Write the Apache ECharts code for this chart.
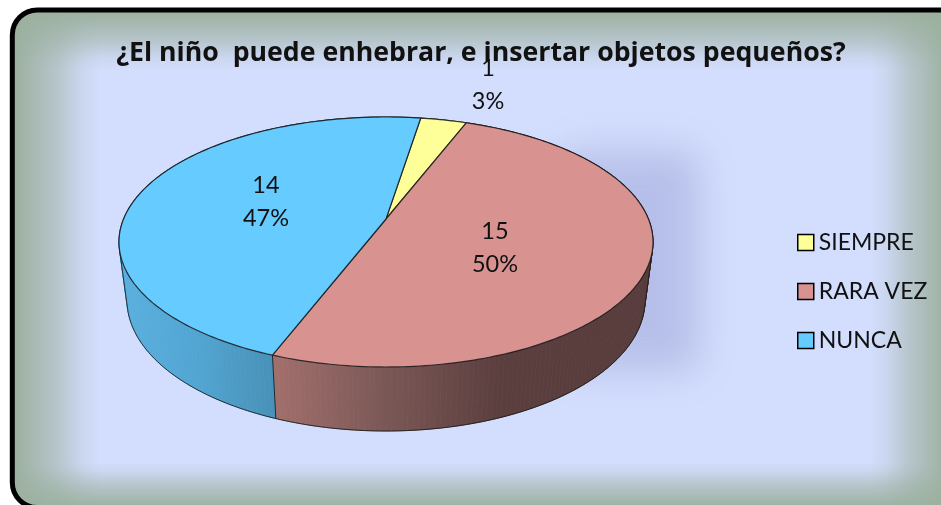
<!DOCTYPE html>
<html>
<head>
<meta charset="utf-8">
<style>html,body{margin:0;padding:0;background:#fff}#c{width:941px;height:505px}</style>
<script src="https://cdn.jsdelivr.net/npm/echarts@6/dist/echarts.min.js"></script>
</head>
<body>
<div id="c"></div>
<script>
const titleText = '¿El niño  puede enhebrar, e insertar objetos pequeños?';
const categories = ['SIEMPRE', 'RARA VEZ', 'NUNCA'];
const values = [1, 15, 14];
const colors = ['#FFFF99', '#D89391', '#66CCFF'];

const FONT = 'Lato, Carlito, sans-serif';
const TITLE_FONT = '"Open Sans", Lato, sans-serif';
const START_DEG = 9;
const TOP = { cx: 386, cy: 242, rx: 267, ry: 125 };
const BOTTOM = { cx: 386, cy: 300, rx: 259, ry: 131 };
const TILT = 0.184;
const LABEL_AT = [[488, 85], [495, 248], [266, 202]];
const WALL = [
  { x0: 386, x1: 470, stops: [[0, '#B3B36B'], [1, '#B3B36B']] },
  { x0: 275, x1: 650, stops: [[0, '#A26F6C'], [0.28, '#7C5957'], [0.6, '#5B3E3E'], [1, '#583C3C']] },
  { x0: 120, x1: 275, stops: [[0, '#59B0DE'], [0.5, '#52A5D2'], [1, '#4891B8']] }
];
const EDGE = 'rgba(25,25,25,0.85)';
const total = values.reduce((a, b) => a + b, 0);

function project(deg, e) {
  const t = deg * Math.PI / 180, u = Math.sin(t), v = -Math.cos(t), d = 1 - TILT * v;
  return [e.cx + e.rx * u * Math.sqrt(1 - TILT * TILT) / d, e.cy + e.ry * (v - TILT) / d];
}
function range(i) {
  let a = START_DEG;
  for (let k = 0; k < i; k++) a += values[k] / total * 360;
  return [a, a + values[i] / total * 360];
}
function arc(a, b, e) {
  const n = Math.max(2, Math.ceil(b - a)), p = [];
  for (let k = 0; k <= n; k++) p.push(project(a + (b - a) * k / n, e));
  return p;
}
function hull(pts) {
  const s = pts.slice().sort((p, q) => p[0] - q[0] || p[1] - q[1]);
  const cross = (o, a, b) => (a[0] - o[0]) * (b[1] - o[1]) - (a[1] - o[1]) * (b[0] - o[0]);
  const lo = [], up = [];
  s.forEach(p => { while (lo.length > 1 && cross(lo[lo.length - 2], lo[lo.length - 1], p) <= 0) lo.pop(); lo.push(p); });
  s.slice().reverse().forEach(p => { while (up.length > 1 && cross(up[up.length - 2], up[up.length - 1], p) <= 0) up.pop(); up.push(p); });
  return lo.slice(0, -1).concat(up.slice(0, -1));
}

function renderSlice(i) {
  return function (params, api) {
    const val = api.value(0);
    const [a, b] = range(i);
    const children = [];
    const w = WALL[i];
    const grad = new echarts.graphic.LinearGradient(w.x0, 0, w.x1, 0,
      w.stops.map(s => ({ offset: s[0], color: s[1] })), true);
    const topArc = arc(a, b, TOP), botArc = arc(a, b, BOTTOM);
    for (let k = 0; k < topArc.length - 1; k++) {
      children.push({
        type: 'polygon', z2: 1, silent: true,
        shape: { points: [topArc[k], topArc[k + 1], botArc[k + 1], botArc[k]] },
        style: { fill: grad, stroke: grad, lineWidth: 0.8 }
      });
    }
    children.push({
      type: 'line', z2: 5, silent: true,
      shape: { x1: topArc[0][0], y1: topArc[0][1], x2: botArc[0][0], y2: botArc[0][1] },
      style: { stroke: EDGE, lineWidth: 1 }
    });
    if (i === values.length - 1) {
      const all = arc(0, 360, TOP).concat(arc(0, 360, BOTTOM));
      children.push({
        type: 'polygon', z2: 6, silent: true,
        shape: { points: hull(all) },
        style: { fill: 'none', stroke: EDGE, lineWidth: 1 }
      });
    }
    const apex = [TOP.cx, TOP.cy - TILT * TOP.ry];
    children.push({
      type: 'polygon', z2: 10,
      shape: { points: [apex].concat(topArc) },
      style: { fill: colors[i], stroke: EDGE, lineWidth: 1.2, lineJoin: 'round' }
    });
    children.push({
      type: 'text', z2: 20, silent: true,
      style: {
        text: val + '\n' + Math.round(val / total * 100) + '%',
        x: LABEL_AT[i][0], y: LABEL_AT[i][1],
        align: 'center', verticalAlign: 'middle',
        textAlign: 'center', textVerticalAlign: 'middle',
        font: '23.5px ' + FONT, lineHeight: 33, fill: '#111'
      }
    });
    return { type: 'group', children };
  };
}

// decoration: panel, soft edges, soft shadow behind the pie
const edgeGrad = (x, y, x2, y2) => new echarts.graphic.LinearGradient(x, y, x2, y2, [
  { offset: 0, color: 'rgba(156,176,159,1)' },
  { offset: 0.5, color: 'rgba(156,176,159,0.52)' },
  { offset: 0.8, color: 'rgba(156,176,159,0.14)' },
  { offset: 1, color: 'rgba(156,176,159,0)' }
], true);
const deco = [
  { type: 'rect', z: 0, shape: { x: 12, y: 10, width: 1000, height: 497.5, r: 25 }, style: { fill: '#D3DDFD' } },
  { type: 'rect', z: 0, shape: { x: 0, y: 0, width: 100, height: 520 }, style: { fill: edgeGrad(15, 0, 100, 0) } },
  { type: 'rect', z: 0, shape: { x: 0, y: 0, width: 960, height: 70 }, style: { fill: edgeGrad(0, 12, 0, 70) } },
  { type: 'rect', z: 0, shape: { x: 870, y: 0, width: 90, height: 520 }, style: { fill: edgeGrad(948, 0, 870, 0) } },
  { type: 'rect', z: 0, shape: { x: 0, y: 462, width: 960, height: 58 }, style: { fill: edgeGrad(0, 508, 0, 462) } },
  // only the blurred shadow of this off-canvas box lands on the panel
  { type: 'rect', z: 0, shape: { x: 560 - 2000, y: 152, width: 138, height: 218 },
    style: { fill: '#000', shadowBlur: 36, shadowOffsetX: 2000, shadowColor: 'rgba(120,130,190,0.33)' } },
  { type: 'rect', z: 1, shape: { x: -17.7, y: -20, width: 1060, height: 557.5, r: 55 }, style: { fill: 'none', stroke: '#fff', lineWidth: 60 } },
  { type: 'rect', z: 1, shape: { x: 12.3, y: 10, width: 1000, height: 497.5, r: 25 }, style: { fill: 'none', stroke: '#000', lineWidth: 5 } }
];

const chart = echarts.init(document.getElementById('c'), null, { renderer: 'canvas' });
chart.setOption({
  animation: false,
  backgroundColor: '#fff',
  graphic: { elements: deco },
  title: {
    text: titleText, left: 481, top: 40, padding: 0, textAlign: 'center',
    textStyle: { fontFamily: TITLE_FONT, fontWeight: 'bold', fontSize: 26.7, color: '#111' }
  },
  legend: {
    orient: 'vertical', left: 797, top: 231, padding: 0, icon: 'rect',
    itemWidth: 16, itemHeight: 16, itemGap: 26, selectedMode: false,
    data: categories.map(n => ({ name: n })),
    itemStyle: { borderColor: '#000', borderWidth: 1.5 },
    textStyle: { fontFamily: FONT, fontSize: 23, color: '#111' }
  },
  series: categories.map((name, i) => ({
    type: 'custom', name, coordinateSystem: 'none',
    itemStyle: { color: colors[i] },
    data: [[values[i]]],
    renderItem: renderSlice(i)
  }))
});
</script>
</body>
</html>
